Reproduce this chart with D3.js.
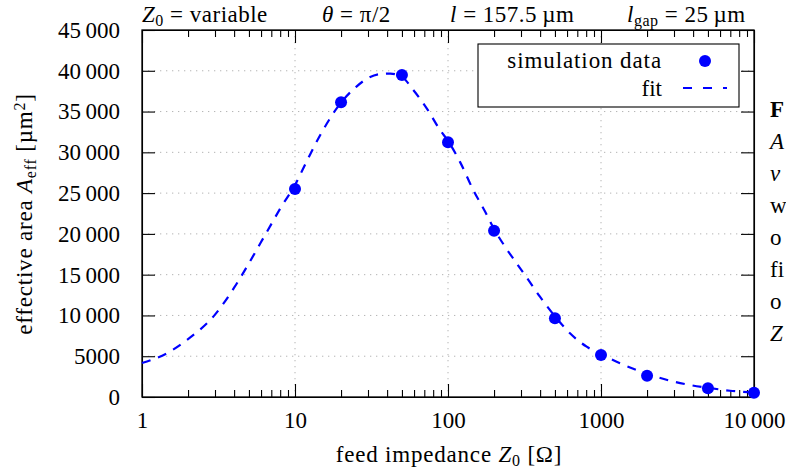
<!DOCTYPE html>
<html lang="en">

<head>
    <meta charset="UTF-8">
    <title>Effective area vs feed impedance</title>
    <script src="https://d3js.org/d3.v7.min.js"></script>
    <style>
        body { margin: 0; background: white; }
        svg { display: block; }
        .grid line { stroke: #b4b4b4; stroke-width: 1; stroke-dasharray: 1.3, 4.7; }
        .axis path, .axis line { stroke: black; stroke-width: 1.1; }
        .axis text { font-size: 23px; fill: black; }
        .lbl { font-size: 23px; fill: black; }
    </style>
</head>

<body>
    <div id="chart"></div>
    <script>
        // simulation data (Z0 in Ohm, A_eff in um^2)
        const simZ = [10, 20, 50, 100, 200, 500, 1000, 2000, 5000, 10000];
        const simA = [25500, 36150, 39480, 31250, 20380, 9660, 5150, 2620, 1060, 530];

        // fit curve
        const fitZ = [1, 1.5, 2, 3, 4, 5, 6, 7, 8, 10, 12, 15, 20, 25, 30, 36, 42, 50, 59.3, 72.6, 88.7,
            100, 120, 146, 175, 200, 236, 281, 335, 399, 500, 627, 806, 1000, 1331, 1711, 2000, 2825, 3819,
            5000, 6966, 10000];
        const fitA = [4170, 5500, 7100, 10100, 13400, 16400, 19000, 21200, 23100, 26000, 29000, 32500, 36100,
            38000, 39100, 39600, 39650, 39250, 37640, 35400, 32740, 31400, 28800, 25400, 22720, 20600, 18430,
            16390, 14350, 12300, 9900, 7810, 6170, 5250, 4130, 3310, 2850, 2000, 1470, 1130, 770, 560];

        const xMajor = [1, 10, 100, 1000, 10000];
        const yMajor = [0, 5000, 10000, 15000, 20000, 25000, 30000, 35000, 40000, 45000];

        const width = 786, height = 472;
        const pLeft = 142, pRight = 754, pTop = 30, pBottom = 397;
        const serif = "'Liberation Serif', 'Times New Roman', serif";

        const svg = d3.select("#chart").append("svg")
            .attr("width", width)
            .attr("height", height)
            .attr("font-family", serif);

        const x = d3.scaleLog().domain([1, 10000]).range([pLeft, pRight]);
        const y = d3.scaleLinear().domain([0, 45000]).range([pBottom, pTop]);

        // minor ticks 2..9 per decade
        const xMinor = [];
        for (let d = 1; d < 10000; d *= 10)
            for (let k = 2; k <= 9; k++) xMinor.push(d * k);

        // number format with thin space for >= 10000
        const fmt = v => v >= 10000 ? d3.format(",")(v).replace(/,/g, "\u2009") : String(v);

        // grid
        const grid = svg.append("g").attr("class", "grid");
        grid.selectAll(".gx").data(xMajor.slice(1, -1)).join("line")
            .attr("x1", d => x(d)).attr("x2", d => x(d))
            .attr("y1", pTop).attr("y2", pBottom);
        grid.selectAll(".gy").data(yMajor.slice(1, -1)).join("line")
            .attr("x1", pLeft).attr("x2", pRight)
            .attr("y1", d => y(d)).attr("y2", d => y(d));

        // axes (ticks pointing inward)
        function addAxis(axis, tx, ty) {
            const g = svg.append("g").attr("class", "axis")
                .attr("transform", `translate(${tx},${ty})`)
                .call(axis);
            g.attr("font-family", serif).attr("font-size", null);
            return g;
        }
        addAxis(d3.axisBottom(x).tickValues(xMajor).tickFormat(fmt).tickSizeInner(-13).tickSizeOuter(0).tickPadding(15), 0, pBottom);
        addAxis(d3.axisBottom(x).tickValues(xMinor).tickFormat("").tickSizeInner(-7).tickSizeOuter(0), 0, pBottom);
        addAxis(d3.axisTop(x).tickValues(xMajor).tickFormat("").tickSizeInner(-13).tickSizeOuter(0), 0, pTop);
        addAxis(d3.axisTop(x).tickValues(xMinor).tickFormat("").tickSizeInner(-7).tickSizeOuter(0), 0, pTop);
        addAxis(d3.axisLeft(y).tickValues(yMajor).tickFormat(fmt).tickSizeInner(-13).tickSizeOuter(0).tickPadding(22), pLeft, 0);
        addAxis(d3.axisRight(y).tickValues(yMajor).tickFormat("").tickSizeInner(-13).tickSizeOuter(0), pRight, 0);

        // frame
        svg.append("rect")
            .attr("x", pLeft).attr("y", pTop)
            .attr("width", pRight - pLeft).attr("height", pBottom - pTop)
            .attr("fill", "none").attr("stroke", "black").attr("stroke-width", 1.3);

        // fit line
        const line = d3.line()
            .x((d, i) => x(fitZ[i]))
            .y(d => y(d))
            .curve(d3.curveMonotoneX);
        svg.append("path")
            .attr("d", line(fitA))
            .attr("fill", "none")
            .attr("stroke", "#0000ff")
            .attr("stroke-width", 2.2)
            .attr("stroke-dasharray", "9,8");

        // simulation points
        svg.selectAll(".pt").data(simA).join("circle")
            .attr("cx", (d, i) => x(simZ[i]))
            .attr("cy", d => y(d))
            .attr("r", 6)
            .attr("fill", "#0000ff");

        // legend
        const lg = svg.append("g");
        lg.append("rect").attr("x", 478).attr("y", 44).attr("width", 261).attr("height", 63)
            .attr("fill", "white").attr("stroke", "black").attr("stroke-width", 1.1);
        lg.append("text").attr("class", "lbl").attr("x", 662).attr("y", 68)
            .attr("text-anchor", "end").attr("letter-spacing", "0.9").text("simulation data");
        lg.append("text").attr("class", "lbl").attr("x", 662).attr("y", 96)
            .attr("text-anchor", "end").text("fit");
        lg.append("circle").attr("cx", 705).attr("cy", 61).attr("r", 6).attr("fill", "#0000ff");
        lg.append("line").attr("x1", 683).attr("x2", 727).attr("y1", 88).attr("y2", 88)
            .attr("stroke", "#0000ff").attr("stroke-width", 2.2).attr("stroke-dasharray", "9,11");

        // helper for text with italic / sub / sup parts
        function rich(sel, parts) {
            parts.forEach(p => {
                const t = sel.append("tspan").text(p.t);
                if (p.i) t.attr("font-style", "italic");
                if (p.sub) t.attr("font-size", "16px").attr("baseline-shift", "-25%");
                if (p.sup) t.attr("font-size", "16px").attr("baseline-shift", "45%");
            });
            return sel;
        }

        // header parameters
        const header = [
            { x: 142, parts: [{ t: "Z", i: 1 }, { t: "0", sub: 1 }, { t: " = variable" }] },
            { x: 322, parts: [{ t: "θ", i: 1 }, { t: " = π/2" }] },
            { x: 450, parts: [{ t: "l", i: 1 }, { t: " = 157.5\u2009µm" }] },
            { x: 627, parts: [{ t: "l", i: 1 }, { t: "gap", sub: 1 }, { t: " = 25\u2009µm" }] }
        ];
        header.forEach(h => rich(svg.append("text").attr("class", "lbl").attr("x", h.x).attr("y", 22)
            .attr("letter-spacing", "0.5"), h.parts));

        // axis titles
        rich(svg.append("text").attr("class", "lbl").attr("x", 449).attr("y", 462)
            .attr("text-anchor", "middle").attr("letter-spacing", "0.8"),
            [{ t: "feed impedance " }, { t: "Z", i: 1 }, { t: "0", sub: 1 }, { t: " [Ω]" }]);
        rich(svg.append("text").attr("class", "lbl")
            .attr("transform", "translate(32,214) rotate(-90)")
            .attr("text-anchor", "middle").attr("letter-spacing", "0.8"),
            [{ t: "effective area " }, { t: "A", i: 1 }, { t: "eff", sub: 1 }, { t: " [µm" }, { t: "2", sup: 1 }, { t: "]" }]);

        // caption fragment at the right edge
        const capLetters = ["F", "A", "ν", "w", "o", "fi", "o", "Z"];
        const capStyle = [{ b: 1 }, { i: 1 }, { i: 1 }, {}, {}, {}, {}, { i: 1 }];
        svg.selectAll(".cap").data(capLetters).join("text")
            .attr("class", "lbl")
            .attr("x", 770)
            .attr("y", (d, i) => 117 + i * 32)
            .attr("font-weight", (d, i) => capStyle[i].b ? "bold" : null)
            .attr("font-style", (d, i) => capStyle[i].i ? "italic" : null)
            .text(d => d);
    </script>
</body>

</html>
